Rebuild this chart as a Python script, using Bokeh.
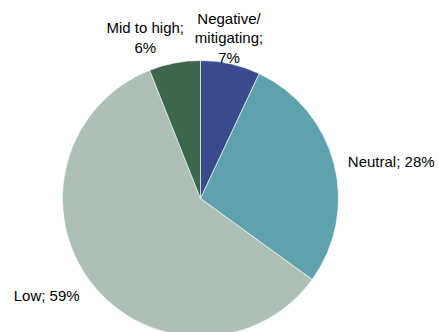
import math
from bokeh.plotting import figure
from bokeh.models import Range1d, ColumnDataSource
from bokeh.core.properties import value
from bokeh.embed import file_html
from bokeh.resources import INLINE

# Data (clockwise from 12 o'clock)
categories = ["Negative/\nmitigating", "Neutral", "Low", "Mid to high"]
shares = [7, 28, 59, 6]
colors = ["#3A4A8C", "#5EA2AD", "#ADC0B6", "#3D674C"]

# Layout / styling
W, H = 439, 332
CX, CY, R = 200, H - 198, 138
label_r = [140, 148, 153, 140]
label_align = ["center", "left", "right", "center"]
label_base = ["bottom", "middle", "middle", "bottom"]
label_dx = [-2, 4, 0, -29]
label_dy = [-4, 0, -3, 5]

total = sum(shares)
starts, ends, lx, ly, texts = [], [], [], [], []
cum = 0.0
for i, (c, s) in enumerate(zip(categories, shares)):
    a0 = math.pi / 2 - 2 * math.pi * cum / total
    cum += s
    a1 = math.pi / 2 - 2 * math.pi * cum / total
    starts.append(a0)
    ends.append(a1)
    mid = (a0 + a1) / 2
    lx.append(CX + label_r[i] * math.cos(mid) + label_dx[i])
    ly.append(CY + label_r[i] * math.sin(mid) + label_dy[i])
    sep = "\n" if c.startswith("Negative") or c.startswith("Mid") else " "
    texts.append(f"{c};{sep}{round(100 * s / total)}%")

p = figure(width=W, height=H, x_range=Range1d(0, W), y_range=Range1d(0, H),
           output_backend="svg", toolbar_location=None, min_border=0)
p.axis.visible = False
p.grid.visible = False
p.outline_line_color = None
p.background_fill_color = "white"
p.border_fill_color = "white"

src = ColumnDataSource(dict(start=starts, end=ends, color=colors))
p.wedge(x=CX, y=CY, radius=R, start_angle="start", end_angle="end",
        direction="clock", fill_color="color", line_color="white",
        line_width=0.6, source=src)

for i in range(len(texts)):
    p.text(x=[lx[i]], y=[ly[i]], text=[texts[i]],
           text_font=value("Liberation Sans"), text_font_size="15px",
           text_color="#000000", text_align=label_align[i],
           text_baseline=label_base[i], text_line_height=1.15)

open("out.html", "w").write(file_html(p, INLINE))
